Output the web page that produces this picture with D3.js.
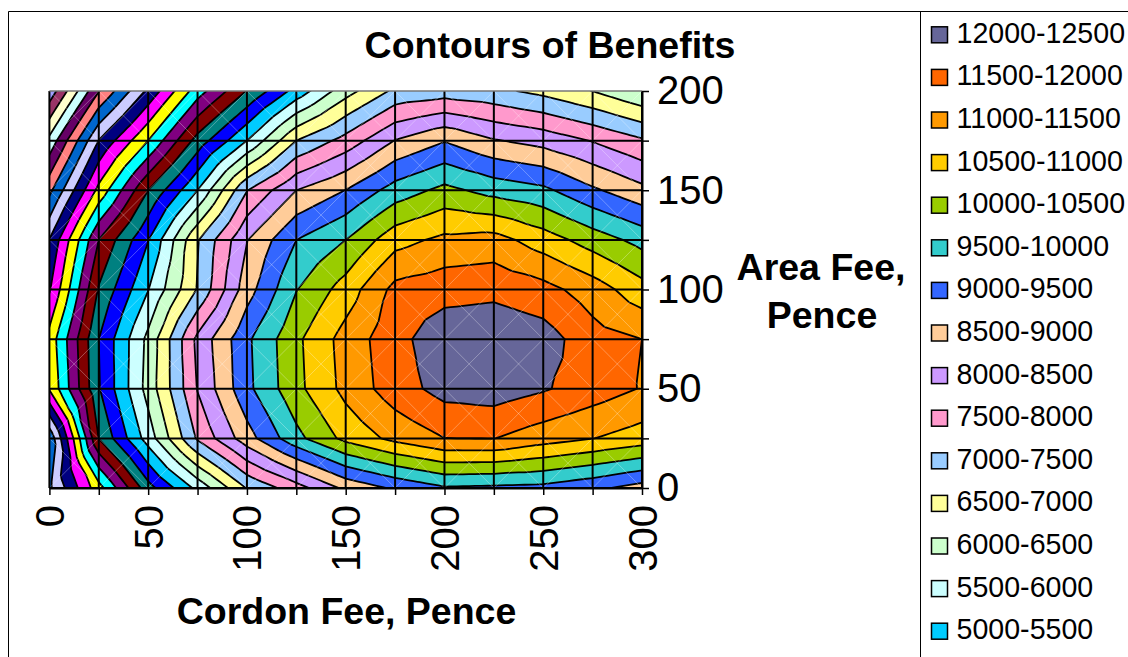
<!DOCTYPE html>
<html lang="en">
<head>
  <meta charset="UTF-8">
  <title>Contours of Benefits</title>
  <script src="https://d3js.org/d3.v7.min.js"></script>
  <style>
    body { margin: 0; background: #fff; }
    svg { display: block; font-family: "Liberation Sans", Arial, sans-serif; }
    .axis-title { font-size: 37.5px; font-weight: bold; text-anchor: middle; }
    .tick-label { font-size: 40px; }
    .legend-label { font-size: 28.6px; }
  </style>
</head>
<body>
  <svg width="1128" height="657"></svg>
  <script>
    const cordonFees = [0, 25, 50, 75, 100, 125, 150, 175, 200, 225, 250, 275, 300];
    const areaFees = [0, 25, 50, 75, 100, 125, 150, 175, 200];

    // benefits by area fee (rows) and cordon fee (columns)
    const area0 = [410, 2300, 4300, 5645, 7030, 7785, 8620, 9080, 9440, 9400, 9350, 9120, 8800];
    const area25 = [95, 4010, 5730, 7570, 8790, 9850, 10645, 11140, 11495, 11510, 11230, 11010, 10775];
    const area50 = [2050, 4460, 6190, 8030, 9370, 10360, 11150, 11765, 12185, 12265, 12050, 11760, 11470];
    const area75 = [2180, 4500, 6135, 8130, 9405, 10395, 11200, 11820, 12340, 12390, 12230, 11700, 11500];
    const area100 = [1450, 4050, 5480, 7040, 8780, 9980, 10720, 11650, 11800, 11865, 11675, 11260, 10690];
    const area125 = [1020, 3500, 4980, 6960, 8480, 9500, 10000, 10815, 11120, 11195, 10750, 10270, 9830];
    const area150 = [-130, 2150, 4000, 5500, 7480, 8500, 9010, 9720, 10140, 9820, 9615, 9085, 8640];
    const area175 = [-1350, 1020, 2500, 4200, 5500, 7000, 7690, 8520, 8970, 8540, 8320, 7970, 7570];
    const area200 = [-2830, -520, 1110, 2770, 4020, 5190, 6300, 7110, 7255, 7125, 6860, 6490, 6030];
    const benefits = [area0, area25, area50, area75, area100, area125, area150, area175, area200];

    // lower edge of each band, lowest first, with the colour Excel gave it
    const bandLevels = [-3000, -2500, -2000, -1500, -1000, -500, 0, 500, 1000, 1500, 2000, 2500, 3000, 3500, 4000, 4500,
      5000, 5500, 6000, 6500, 7000, 7500, 8000, 8500, 9000, 9500, 10000, 10500, 11000, 11500, 12000];
    const bandColors = ["#9999FF", "#993366", "#FFFFCC", "#CCFFFF", "#660066", "#FF8080", "#0066CC", "#CCCCFF", "#000080", "#FF00FF", "#FFFF00", "#00FFFF", "#800080", "#800000", "#008080", "#0000FF",
      "#00CCFF", "#CCFFFF", "#CCFFCC", "#FFFF99", "#99CCFF", "#FF99CC", "#CC99FF", "#FFCC99", "#3366FF", "#33CCCC", "#99CC00", "#FFCC00", "#FF9900", "#FF6600", "#666699"];

    // the legend is cut off by the frame, only the top 15 bands fit
    const legendLabels = ["12000-12500", "11500-12000", "11000-11500", "10500-11000", "10000-10500", "9500-10000", "9000-9500", "8500-9000",
      "8000-8500", "7500-8000", "7000-7500", "6500-7000", "6000-6500", "5500-6000", "5000-5500"];

    const xTicks = [0, 25, 50, 75, 100, 125, 150, 175, 200, 225, 250, 275, 300];
    const yTicks = [0, 25, 50, 75, 100, 125, 150, 175, 200];

    const svg = d3.select("svg");

    const x = d3.scaleLinear().domain([0, 300]).range([49.4, 642]);
    const y = d3.scaleLinear().domain([0, 200]).range([488, 91]);

    // Excel splits each cell in 4 triangles around the cell mean, so the lines
    // kink on the diagonals. Sample that surface finer and let d3.contours trace it.
    const sub = 8;
    const nx = (cordonFees.length - 1) * sub + 1;
    const ny = (areaFees.length - 1) * sub + 1;
    const surface = new Array(nx * ny);
    for (let j = 0; j < ny; j++) {
      for (let i = 0; i < nx; i++) {
        const ci = Math.min(Math.floor(i / sub), cordonFees.length - 2);
        const cj = Math.min(Math.floor(j / sub), areaFees.length - 2);
        const u = i / sub - ci;
        const v = j / sub - cj;
        const a = benefits[cj][ci], b = benefits[cj][ci + 1];
        const d = benefits[cj + 1][ci], e = benefits[cj + 1][ci + 1];
        const c = (a + b + d + e) / 4;
        let val;
        if (v <= u && v <= 1 - u) val = a * (1 - u - v) + b * (u - v) + c * 2 * v;
        else if (v >= u && v >= 1 - u) val = d * (v - u) + e * (u + v - 1) + c * 2 * (1 - v);
        else if (u <= v) val = a * (1 - u - v) + d * (v - u) + c * 2 * u;
        else val = b * (u - v) + e * (u + v - 1) + c * 2 * (1 - u);
        surface[j * nx + i] = val;
      }
    }

    const contours = d3.contours().size([nx, ny]).thresholds(bandLevels)(surface);

    // d3.contours puts a value at the middle of its cell, hence the half step
    const toPlot = d3.geoTransform({
      point: function (px, py) {
        this.stream.point(x((px - 0.5) / sub * 25), y((py - 0.5) / sub * 25));
      }
    });
    const path = d3.geoPath(toPlot);

    svg.append("clipPath").attr("id", "plot-clip").append("rect")
      .attr("x", x(0)).attr("y", y(200))
      .attr("width", x(300) - x(0)).attr("height", y(0) - y(200));

    const plot = svg.append("g").attr("clip-path", "url(#plot-clip)");

    plot.selectAll(".band")
      .data(contours)
      .enter()
      .append("path")
      .attr("class", "band")
      .attr("d", path)
      .attr("fill", (d, i) => bandColors[i]);

    plot.selectAll(".level-line")
      .data(contours.slice(1))
      .enter()
      .append("path")
      .attr("class", "level-line")
      .attr("d", path)
      .attr("fill", "none")
      .attr("stroke", "#000")
      .attr("stroke-width", 1.8);

    // faint diagonals of the triangles
    const diagonals = plot.append("g").attr("stroke", "#fff").attr("stroke-opacity", 0.3);
    cordonFees.slice(0, -1).forEach((cx, i) => {
      areaFees.slice(0, -1).forEach((cy, j) => {
        const x1 = x(cx), x2 = x(cordonFees[i + 1]), y1 = y(cy), y2 = y(areaFees[j + 1]);
        diagonals.append("line").attr("x1", x1).attr("y1", y1).attr("x2", x2).attr("y2", y2);
        diagonals.append("line").attr("x1", x1).attr("y1", y2).attr("x2", x2).attr("y2", y1);
      });
    });

    // grid, the top line is lighter in the original
    svg.append("g").selectAll("line").data(xTicks).enter().append("line")
      .attr("x1", d => x(d)).attr("x2", d => x(d))
      .attr("y1", y(0)).attr("y2", y(200))
      .attr("stroke", "#000").attr("stroke-width", 2);
    svg.append("g").selectAll("line").data(yTicks).enter().append("line")
      .attr("x1", x(0)).attr("x2", x(300))
      .attr("y1", d => y(d)).attr("y2", d => y(d))
      .attr("stroke", d => d === 200 ? "#777" : "#000")
      .attr("stroke-width", d => d === 200 ? 1.5 : 2);

    // axes, ticks every 25, labels every 50
    const xAxis = svg.append("g")
      .attr("transform", `translate(0,${y(0)})`)
      .call(d3.axisBottom(x).tickValues(xTicks).tickSizeInner(7).tickSizeOuter(0).tickFormat(d => d % 50 === 0 ? d : ""));
    xAxis.select(".domain").attr("stroke", "#000").attr("stroke-width", 2);
    xAxis.selectAll(".tick line").attr("stroke-width", 1.5);
    xAxis.selectAll("text")
      .attr("class", "tick-label")
      .attr("font-family", null).attr("font-size", null)
      .attr("transform", "rotate(-90)")
      .attr("text-anchor", "end")
      .attr("x", -17)
      .attr("y", 0)
      .attr("dy", "0.35em");

    const yAxis = svg.append("g")
      .attr("transform", `translate(${x(300)},0)`)
      .call(d3.axisRight(y).tickValues(yTicks).tickSizeInner(7).tickSizeOuter(0).tickPadding(8).tickFormat(d => d % 50 === 0 ? d : ""));
    yAxis.select(".domain").attr("stroke", "#000").attr("stroke-width", 2);
    yAxis.selectAll(".tick line").attr("stroke-width", 1.5);
    yAxis.selectAll("text")
      .attr("class", "tick-label")
      .attr("font-family", null).attr("font-size", null);

    // titles
    svg.append("text").attr("class", "axis-title").attr("x", 550).attr("y", 58).text("Contours of Benefits");
    svg.append("text").attr("class", "axis-title").attr("x", 346.5).attr("y", 624).text("Cordon Fee, Pence");
    svg.append("text").attr("class", "axis-title").attr("x", 821).attr("y", 280).text("Area Fee,");
    svg.append("text").attr("class", "axis-title").attr("x", 822).attr("y", 328).text("Pence");

    // frame and legend
    svg.append("path")
      .attr("d", "M8.5,657V11.5H1128M920.5,11.5V657")
      .attr("fill", "none").attr("stroke", "#000").attr("stroke-width", 1);

    const legend = svg.append("g");
    legendLabels.forEach((label, i) => {
      const rowY = 34.8 + i * 42.6;
      legend.append("rect")
        .attr("x", 931.5).attr("y", rowY - 8)
        .attr("width", 16).attr("height", 16)
        .attr("fill", bandColors[bandColors.length - 1 - i])
        .attr("stroke", "#000").attr("stroke-width", 1.5);
      legend.append("text")
        .attr("class", "legend-label")
        .attr("x", 956.5).attr("y", rowY + 8)
        .text(label);
    });
  </script>
</body>
</html>
